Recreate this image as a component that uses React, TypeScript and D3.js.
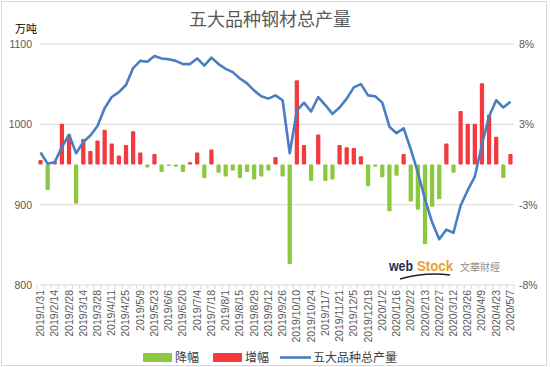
import React from "react";
import * as d3 from "d3";

const categories: string[] = [
  "2019/1/31","2019/2/7","2019/2/14","2019/2/21","2019/2/28","2019/3/7","2019/3/14","2019/3/21","2019/3/28","2019/4/4",
  "2019/4/11","2019/4/18","2019/4/25","2019/5/2","2019/5/9","2019/5/16","2019/5/23","2019/5/30","2019/6/6","2019/6/13",
  "2019/6/20","2019/6/27","2019/7/4","2019/7/11","2019/7/18","2019/7/25","2019/8/1","2019/8/8","2019/8/15","2019/8/22",
  "2019/8/29","2019/9/5","2019/9/12","2019/9/19","2019/9/26","2019/10/3","2019/10/10","2019/10/17","2019/10/24","2019/10/31",
  "2019/11/7","2019/11/14","2019/11/21","2019/11/28","2019/12/5","2019/12/12","2019/12/19","2019/12/26","2020/1/2","2020/1/9",
  "2020/1/16","2020/1/23","2020/2/2","2020/2/6","2020/2/13","2020/2/20","2020/2/27","2020/3/5","2020/3/12","2020/3/19",
  "2020/3/26","2020/4/2","2020/4/9","2020/4/16","2020/4/23","2020/4/30","2020/5/7"
];

// 五大品种总产量 (万吨)
const totalOutput: number[] = [
  965, 951, 953, 972, 987, 964, 978, 986, 998, 1020,
  1034, 1040, 1049, 1070, 1079, 1078, 1085, 1082, 1081, 1079,
  1075, 1075, 1082, 1073, 1083, 1075, 1069, 1065, 1057, 1051,
  1042, 1035, 1032, 1036, 1030, 964, 1017, 1027, 1016, 1034,
  1024, 1013, 1021, 1032, 1046, 1050, 1036, 1035, 1027, 997,
  989, 995, 969, 940, 907, 878, 857, 869, 865, 899,
  918, 935, 975, 1010, 1030, 1021, 1028
];

// change (%), positive = 增幅, negative = 降幅
const changePct: number[] = [
  0.3, -1.7, 0.2, 2.7, 2.0, -2.6, 1.7, 0.9, 1.6, 2.3,
  1.4, 0.6, 1.3, 2.2, 0.8, -0.2, 0.7, -0.5, -0.1, -0.15,
  -0.5, 0.15, 0.8, -0.9, 1.0, -0.55, -0.8, -0.4, -0.9, -0.5,
  -1.0, -0.8, -0.4, 0.5, -0.8, -6.6, 5.6, 1.3, -1.1, 2.0,
  -1.1, -1.0, 1.3, 1.15, 1.1, 0.55, -1.45, -0.15, -0.85, -3.1,
  -0.75, 0.7, -2.45, -3.0, -5.3, -2.8, -2.3, 1.4, -0.55, 3.55,
  2.7, 2.7, 5.4, 3.3, 1.85, -0.9, 0.7
];

const leftTicks: number[] = [800, 900, 1000, 1100];
const rightTicks: number[] = [-8, -8 + 16 / 3, 8 - 16 / 3, 8];

const W = 550, H = 367;
const M = { left: 37, right: 514, top: 44, bottom: 285 };

const GREEN = "#8DC63F";
const RED = "#F23A3F";
const BLUE = "#4A7EC4";
const GRID = "#D9D9D9";
const TXT = "#595959";
const FONT = "'Noto Sans CJK SC', 'Liberation Sans', sans-serif";

export default function App() {
  const x = d3.scaleBand<string>().domain(categories).range([M.left, M.right]).paddingInner(0);
  const yL = d3.scaleLinear().domain([800, 1100]).range([M.bottom, M.top]);
  const yR = d3.scaleLinear().domain([-8, 8]).range([M.bottom, M.top]);
  const bw = x.bandwidth();
  const barW = bw * 0.6;
  const cx = (c: string) => (x(c) as number) + bw / 2;

  const line = d3
    .line<number>()
    .x((_, i) => cx(categories[i]))
    .y((d) => yL(d))
    .curve(d3.curveLinear);

  return (
    <svg
      width={W}
      height={H}
      style={{ position: "absolute", left: 0, top: 0, background: "#fff" }}
      fontFamily={FONT}
    >
      <rect x={1.5} y={1.5} width={545} height={364} fill="#fff" stroke="#D9D9D9" />
      <text x={270} y={26} textAnchor="middle" fontSize={18} fill={TXT}>
        五大品种钢材总产量
      </text>
      <text x={15} y={33} fontSize={11} fill="#000">万吨</text>

      {/* grid */}
      {leftTicks.slice(1).map((t) => (
        <line key={t} x1={M.left + 3} x2={M.right} y1={yL(t)} y2={yL(t)} stroke={GRID} strokeWidth={1} />
      ))}
      <line x1={M.left + 3} x2={M.right} y1={M.bottom} y2={M.bottom} stroke={GRID} strokeWidth={1} />
      {categories.map((c, i) => (
        <line key={"tk" + i} x1={x(c) as number} x2={x(c) as number} y1={M.bottom} y2={M.bottom + 4} stroke={GRID} />
      ))}
      <line x1={M.right} x2={M.right} y1={M.bottom} y2={M.bottom + 4} stroke={GRID} />

      {/* left axis labels */}
      {leftTicks.map((t) => (
        <text key={"l" + t} x={32} y={yL(t) + 4} textAnchor="end" fontSize={10.5} fill={TXT} fontFamily="'Liberation Sans', sans-serif">
          {t}
        </text>
      ))}
      {/* right axis labels */}
      {rightTicks.map((t, i) => (
        <text key={"r" + i} x={519} y={yR(t) + 4} textAnchor="start" fontSize={10.5} fill={TXT} fontFamily="'Liberation Sans', sans-serif">
          {`${Math.round(t)}%`}
        </text>
      ))}

      {/* bars */}
      {changePct.map((v, i) => {
        const c = categories[i];
        const y0 = yR(0);
        const y1 = yR(v);
        return (
          <rect
            key={"b" + i}
            x={cx(c) - barW / 2}
            y={Math.min(y0, y1)}
            width={barW}
            height={Math.max(1.5, Math.abs(y1 - y0))}
            rx={1}
            fill={v >= 0 ? RED : GREEN}
          />
        );
      })}

      {/* line */}
      <path d={line(totalOutput) || ""} fill="none" stroke={BLUE} strokeWidth={2.6} strokeLinejoin="round" />

      {/* x labels */}
      {categories.map((c, i) =>
        i % 2 === 0 ? (
          <text
            key={"x" + i}
            transform={`translate(${cx(c) + 3.5},${M.bottom + 5}) rotate(-90)`}
            textAnchor="end"
            fontSize={10.5}
            fill={TXT}
            fontFamily="'Liberation Sans', sans-serif"
          >
            {c}
          </text>
        ) : null
      )}

      {/* watermark */}
      <g>
        <text x={389} y={271} fontSize={15} fontWeight="bold" fill="#1F2D5C" fontFamily="'Liberation Sans', sans-serif" textLength={24} lengthAdjust="spacingAndGlyphs">
          web
        </text>
        <text x={417} y={271} fontSize={15} fontWeight="bold" fill="#E9A228" fontFamily="'Liberation Sans', sans-serif" textLength={36} lengthAdjust="spacingAndGlyphs">
          Stock
        </text>
        <text x={460} y={271} fontSize={10} fill="#8C8C8C" fontFamily="'Noto Sans CJK TC', sans-serif">文華財經</text>
        <path d="M400,279 Q425,272 450,275" fill="none" stroke="#222" strokeWidth={1.5} />
      </g>

      {/* legend */}
      <rect x={143} y={353} width={29} height={9} fill={GREEN} rx={1} />
      <text x={175} y={362} fontSize={12} fill="#404040">降幅</text>
      <rect x={213} y={353} width={29} height={9} fill={RED} rx={1} />
      <text x={245} y={362} fontSize={12} fill="#404040">增幅</text>
      <line x1={280} x2={311} y1={357.5} y2={357.5} stroke={BLUE} strokeWidth={2.6} />
      <text x={313} y={362} fontSize={12} fill="#404040">五大品种总产量</text>
    </svg>
  );
}
